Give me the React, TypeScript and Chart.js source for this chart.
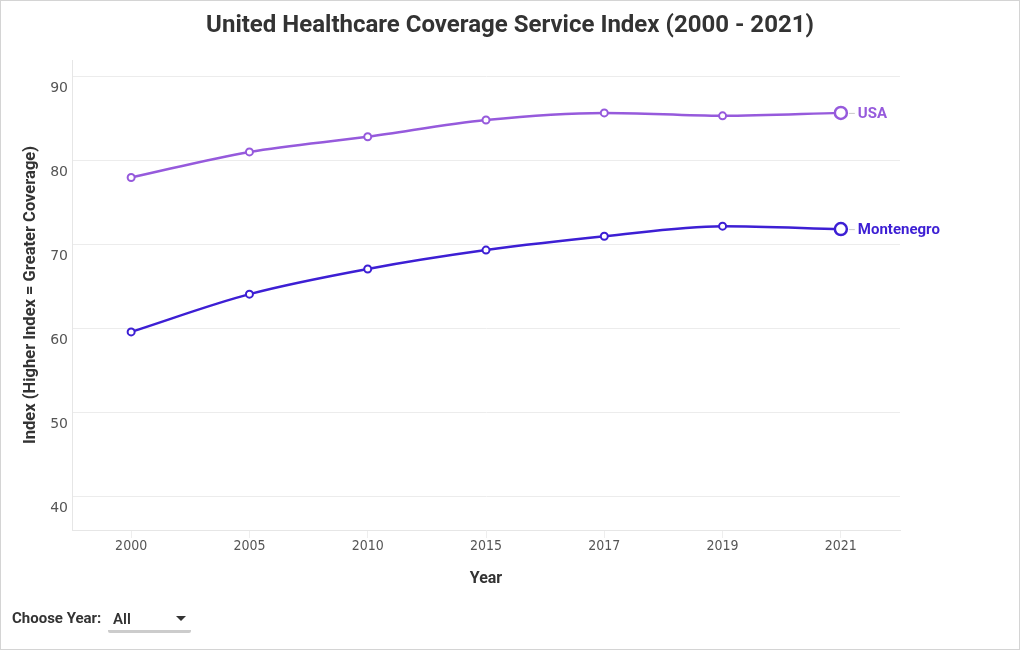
import React, { useEffect, useRef } from "react";
import { Chart, registerables } from "chart.js";

Chart.register(...registerables);

const years = ["2000", "2005", "2010", "2015", "2017", "2019", "2021"];
const usaValues = [78.0, 81.05, 82.85, 84.85, 85.7, 85.35, 85.7];
const montenegroValues = [59.6, 64.1, 67.1, 69.35, 71.0, 72.2, 71.85];
const seriesNames = ["USA", "Montenegro"];
const seriesColors = ["#965adc", "#3d1fd4"];
const yTicks = [40, 50, 60, 70, 80, 90];

const endLabelPlugin = {
  id: "endLabels",
  afterDatasetsDraw(chart: any) {
    const ctx = chart.ctx;
    chart.data.datasets.forEach((ds: any, i: number) => {
      const meta = chart.getDatasetMeta(i);
      const last = meta.data[meta.data.length - 1];
      if (!last) return;
      const x = last.x;
      const y = last.y;
      ctx.save();
      ctx.strokeStyle = "#c8c8c8";
      ctx.lineWidth = 1;
      ctx.beginPath();
      ctx.moveTo(x + 8, y + 0.5);
      ctx.lineTo(x + 14, y + 0.5);
      ctx.stroke();
      ctx.fillStyle = ds.borderColor;
      ctx.font = "bold 15px Roboto, 'Noto Sans', sans-serif";
      ctx.textAlign = "left";
      ctx.textBaseline = "middle";
      ctx.fillText(ds.label, x + 17, y + 1);
      ctx.restore();
    });
  },
};

export default function App() {
  const canvasRef = useRef<HTMLCanvasElement | null>(null);

  useEffect(() => {
    if (!canvasRef.current) return;
    const lastIdx = years.length - 1;
    const mkDataset = (label: string, data: number[], color: string) => ({
      label,
      data,
      borderColor: color,
      backgroundColor: "#ffffff",
      borderWidth: 2.5,
      pointBackgroundColor: "#ffffff",
      pointBorderColor: color,
      pointBorderWidth: data.map((_, i) => (i === lastIdx ? 2.5 : 2)),
      pointRadius: data.map((_, i) => (i === lastIdx ? 6 : 3.5)),
      cubicInterpolationMode: "monotone" as const,
      fill: false,
    });
    const chart = new Chart(canvasRef.current, {
      type: "line",
      data: {
        labels: years,
        datasets: [
          mkDataset(seriesNames[0], usaValues, seriesColors[0]),
          mkDataset(seriesNames[1], montenegroValues, seriesColors[1]),
        ],
      },
      options: {
        animation: false,
        responsive: false,
        maintainAspectRatio: false,
        layout: { padding: { left: 0, top: 60, right: 120, bottom: 0 } },
        plugins: {
          legend: { display: false },
          tooltip: { enabled: false },
          title: { display: false },
        },
        scales: {
          x: {
            type: "category",
            offset: true,
            grid: {
              display: true,
              drawOnChartArea: false,
              drawTicks: true,
              tickLength: 8,
              color: "#eeeeee",
              offset: false,
            },
            border: { display: true, color: "#e6e6e6" },
            ticks: {
              color: "#555555",
              padding: 0,
              font: { family: "'Liberation Sans Narrow', 'DejaVu Sans Condensed', sans-serif", size: 14 },
            },
            title: {
              display: true,
              text: "Year",
              color: "#333333",
              font: { family: "Roboto, 'Noto Sans', sans-serif", size: 16, weight: "bold" },
              padding: { top: 0, bottom: 61 },
            },
            afterFit(scale: any) {
              scale.height = 120;
            },
          },
          y: {
            min: 36,
            max: 92,
            afterBuildTicks(scale: any) {
              scale.ticks = yTicks.map((v) => ({ value: v }));
            },
            grid: { color: "#ececec", drawTicks: false },
            border: { display: true, color: "#e6e6e6" },
            ticks: {
              color: "#555555",
              padding: 4,
              labelOffset: 12,
              font: { family: "'DejaVu Sans', sans-serif", size: 14 },
            },
            title: {
              display: true,
              text: "Index (Higher Index = Greater Coverage)",
              color: "#333333",
              font: { family: "Roboto, 'Noto Sans', sans-serif", size: 16.5, weight: "bold" },
              padding: { top: 21, bottom: 0 },
            },
            afterFit(scale: any) {
              scale.width = 72;
            },
          },
        },
      },
      plugins: [endLabelPlugin],
    });
    return () => chart.destroy();
  }, []);

  return (
    <div
      style={{
        position: "fixed",
        left: 0,
        top: 0,
        width: 1020,
        height: 650,
        background: "#ffffff",
        fontFamily: "Roboto, 'Noto Sans', sans-serif",
      }}
    >
      <canvas ref={canvasRef} width={1020} height={650} style={{ position: "absolute", left: 0, top: 0, width: 1020, height: 650 }} />
      <div
        style={{
          position: "absolute",
          left: 0,
          top: 9,
          width: 1020,
          textAlign: "center",
          fontSize: 24,
          fontWeight: 700,
          color: "#333333",
          lineHeight: "30px",
        }}
      >
        United Healthcare Coverage Service Index (2000 - 2021)
      </div>
      <div
        style={{
          position: "absolute",
          left: 12,
          top: 609,
          fontSize: 15,
          fontWeight: 700,
          color: "#333333",
          lineHeight: "18px",
        }}
      >
        Choose Year:
      </div>
      <div
        style={{
          position: "absolute",
          left: 108,
          top: 608,
          width: 83,
          height: 22,
          borderBottom: "3px solid #cccccc",
          borderRadius: 2,
        }}
      >
        <span style={{ position: "absolute", left: 5, top: 2, fontSize: 15, fontWeight: 600, color: "#333333", lineHeight: "18px" }}>
          All
        </span>
        <span
          style={{
            position: "absolute",
            right: 5,
            top: 8,
            width: 0,
            height: 0,
            borderLeft: "5px solid transparent",
            borderRight: "5px solid transparent",
            borderTop: "5px solid #333333",
          }}
        />
      </div>
      <div
        style={{
          position: "absolute",
          left: 0,
          top: 0,
          width: 1020,
          height: 650,
          boxSizing: "border-box",
          border: "1px solid #d4d4d4",
          pointerEvents: "none",
        }}
      />
    </div>
  );
}
